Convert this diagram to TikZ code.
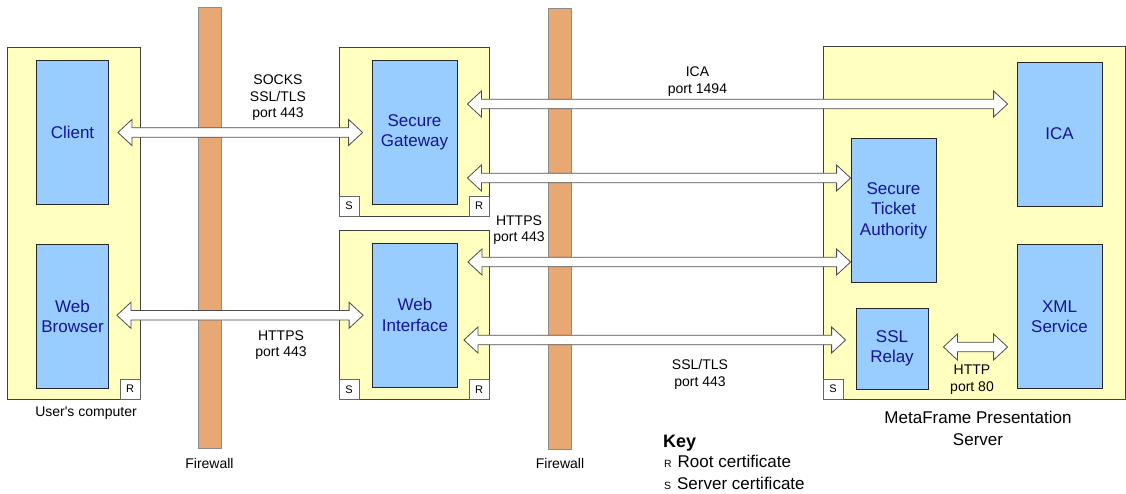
\documentclass[tikz,border=0pt]{standalone}
\usepackage{fontspec}
\setmainfont{Liberation Sans}
\usetikzlibrary{calc,positioning}

\definecolor{hostfill}{RGB}{255,255,192}
\definecolor{partfill}{RGB}{153,204,255}
\definecolor{wallfill}{RGB}{232,168,116}
\definecolor{parttext}{RGB}{20,20,150}

% hollow two-way arrow, kept level with its left end
\newcommand\twoway[2]{%
  \path[conn] let \p1=(#1), \p2=(#2) in
    (\x1,\y1) -- ++(14pt,13pt) -- ++(0pt,-8.25pt) -- (\x2-14pt,\y1+4.75pt) -- ++(0pt,8.25pt)
    -- (\x2,\y1) -- ++(-14pt,-13pt) -- ++(0pt,8.25pt) -- (\x1+14pt,\y1-4.75pt) -- ++(0pt,-8.25pt) -- cycle;}

\begin{document}
\begin{tikzpicture}[x=1pt, y=1pt, node distance=14pt,
    host/.style={draw=black!75, fill=hostfill, line width=0.8pt, inner sep=0pt},
    part/.style={draw=black!85, fill=partfill, text=parttext, align=center, inner sep=0pt,
      line width=0.8pt, font=\fontsize{17}{20.5}\selectfont},
    cert/.style={draw=black!60, fill=white, minimum size=20pt, inner sep=0pt,
      line width=0.8pt, font=\fontsize{11}{12}\selectfont},
    wall/.style={draw=black!45, fill=wallfill, minimum width=23pt, minimum height=441pt,
      inner sep=0pt, line width=0.8pt},
    lbl/.style={align=center, inner sep=0pt, font=\fontsize{14}{16.5}\selectfont},
    conn/.style={draw=black!70, fill=white, line width=0.8pt, line join=miter}]
  \useasboundingbox (0,0) rectangle (1126,494);

  % machines
  \node[host, minimum width=133pt, minimum height=352pt] (uc) at (73.5,271) {};
  \node[host, minimum width=150pt, minimum height=169pt] (gwbox) at (414,362.5) {};
  \node[host, minimum width=150pt, minimum height=169pt, below=of gwbox] (wibox) {};
  \node[host, minimum width=302pt, minimum height=353pt] (mps) at (974,271.5) {};

  % firewalls
  \node[wall] (fw1) at (209.5,266) {};
  \node[wall] (fw2) at (560,265.5) {};
  \node[lbl, below=9pt of fw1] (fw1lbl) {Firewall};
  \node[lbl, below=9pt of fw2] (fw2lbl) {Firewall};

  % components
  \begin{scope}[every node/.append style={part, minimum width=85pt, minimum height=144pt}]
    \node[minimum width=72pt] (client) at (72.5,361.5) {Client};
    \node[minimum width=72pt, below=39pt of client] (browser) {Web\\Browser};
    \node (gw) at (414.5,361.5) {Secure\\Gateway};
    \node (wi) at (415,179) {Web\\Interface};
    \node (ica) at (1059.5,360) {ICA};
    \node (sta) at (893.5,283.5) {Secure\\Ticket\\Authority};
    \node[minimum width=72pt, minimum height=81pt] (relay) at (892,145.5) {SSL\\Relay};
    \node (xml) at (1059.5,177.5) {XML\\Service};
  \end{scope}

  % certificates
  \node[cert, anchor=south east] (ucroot) at (uc.south east) {R};
  \node[cert, anchor=south west] (gwserver) at (gwbox.south west) {S};
  \node[cert, anchor=south east] (gwroot) at (gwbox.south east) {R};
  \node[cert, anchor=south west] (wiserver) at (wibox.south west) {S};
  \node[cert, anchor=south east] (wiroot) at (wibox.south east) {R};
  \node[cert, anchor=south west] (mpsserver) at (mps.south west) {S};

  % connections
  \twoway{[xshift=9pt]client.east}{[xshift=-9pt]gw.west}
  \twoway{[shift={(8pt,1pt)}]browser.east}{[xshift=-9pt]wi.west}
  \twoway{[shift={(10pt,28.5pt)}]gw.east}{[xshift=-9pt]ica.west}
  \twoway{[shift={(10pt,-45.5pt)}]gw.east}{sta.west}
  \twoway{[shift={(10pt,53pt)}]wi.east}{sta.west}
  \twoway{[shift={(6pt,-25pt)}]wi.east}{[xshift=-10pt]relay.west}
  \twoway{[shift={(15pt,1.5pt)}]relay.east}{[xshift=-9pt]xml.west}

  % protocols
  \node[lbl] (socks) at (278,396) {SOCKS\\SSL/TLS\\port 443};
  \node[lbl] (httpsa) at (281,149) {HTTPS\\port 443};
  \node[lbl] (icaport) at (697.5,412.5) {ICA\\port 1494};
  \node[lbl] (httpsb) at (519,264) {HTTPS\\port 443};
  \node[lbl] (ssltls) at (700,119.5) {SSL/TLS\\port 443};
  \node[lbl] (http) at (972,114.5) {HTTP\\port 80};

  % machine names
  \node[lbl] (uclbl) at (86,81) {User\textquotesingle s computer};
  \node[lbl, font=\fontsize{17}{22}\selectfont] (mpslbl) at (978,66) {MetaFrame Presentation\\Server};

  % key
  \begin{scope}[every node/.style={inner sep=0pt, anchor=base west}]
    \node[font=\fontsize{18}{20}\selectfont\bfseries] (key) at (663,46) {Key};
    \node[font=\fontsize{10.5}{12}\selectfont] (keyr) at (664,26) {R};
    \node[font=\fontsize{17}{20}\selectfont, base right=5.5pt of keyr] (keyroot) {Root certificate};
    \node[font=\fontsize{10.5}{12}\selectfont] (keys) at (664,4) {S};
    \node[font=\fontsize{17}{20}\selectfont, base right=5.5pt of keys] (keyserver) {Server certificate};
  \end{scope}
\end{tikzpicture}
\end{document}
